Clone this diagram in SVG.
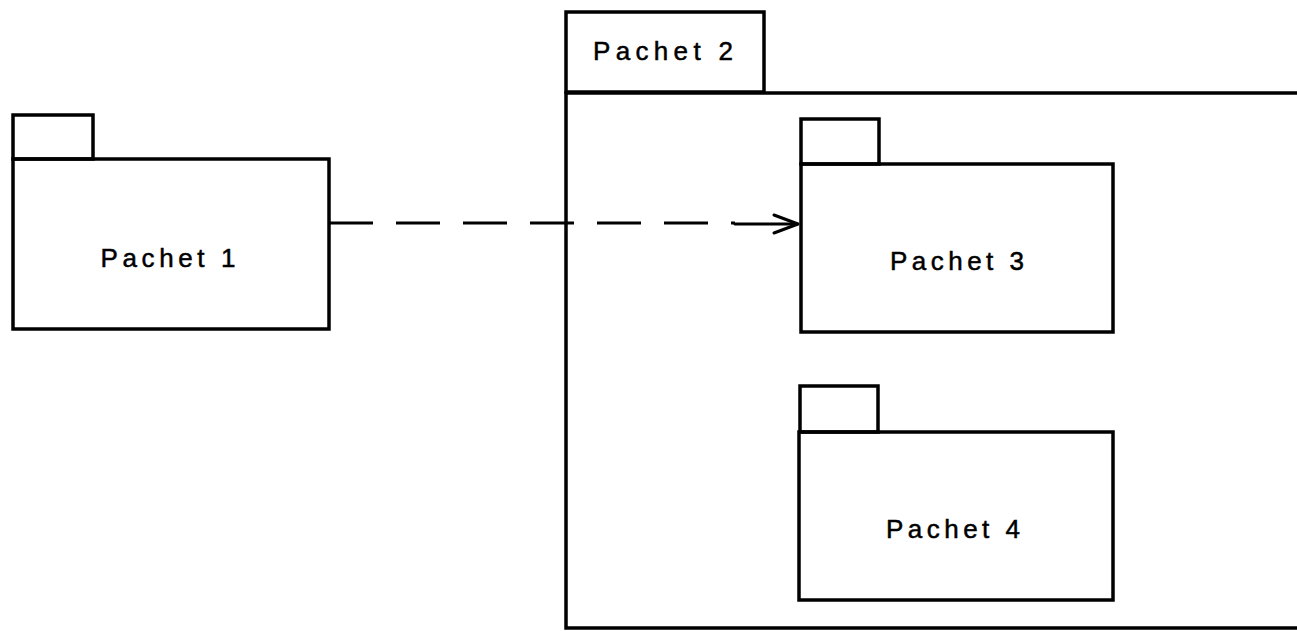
<svg xmlns="http://www.w3.org/2000/svg" width="1297" height="631" viewBox="0 0 1297 631">
  <style>
    .pkg { fill: none; stroke: #000; stroke-width: 3.5; stroke-linejoin: miter; }
    .lbl { font-family: "Liberation Sans", Arial, sans-serif; font-size: 26px; fill: #000; stroke: #000; stroke-width: 0.5; text-anchor: middle; }
    .dep { fill: none; stroke: #000; stroke-width: 3; stroke-dasharray: 44 23; }
    .head { fill: none; stroke: #000; stroke-width: 3; stroke-linecap: round; stroke-linejoin: round; }
  </style>
  <rect width="1297" height="631" fill="#fff"/>

  <!-- Pachet 2: container package, open on the right -->
  <g id="pachet2">
    <rect class="pkg" x="566" y="12" width="198" height="80"/>
    <path class="pkg" d="M1297 93 H566 V628 H1297"/>
    <text class="lbl" x="663" y="60" textLength="140" lengthAdjust="spacing">Pachet 2</text>
  </g>

  <!-- Pachet 1 -->
  <g id="pachet1">
    <rect class="pkg" x="13" y="115" width="80" height="44"/>
    <rect class="pkg" x="13" y="159" width="316" height="170"/>
    <text class="lbl" x="168" y="267" textLength="135" lengthAdjust="spacing">Pachet 1</text>
  </g>

  <!-- Pachet 3 -->
  <g id="pachet3">
    <rect class="pkg" x="801" y="119" width="78" height="45"/>
    <rect class="pkg" x="801" y="164" width="312" height="168"/>
    <text class="lbl" x="957" y="270" textLength="134" lengthAdjust="spacing">Pachet 3</text>
  </g>

  <!-- Pachet 4 -->
  <g id="pachet4">
    <rect class="pkg" x="800" y="386" width="78" height="46"/>
    <rect class="pkg" x="799" y="432" width="314" height="168"/>
    <text class="lbl" x="953" y="538" textLength="134" lengthAdjust="spacing">Pachet 4</text>
  </g>

  <!-- dependency: Pachet 1 to Pachet 3 -->
  <g id="connectors">
    <path class="dep" d="M329 223 H735"/>
    <path class="head" d="M735 224 H797"/>
    <path class="head" d="M774 215 L798 224 L774 233"/>
  </g>
</svg>
